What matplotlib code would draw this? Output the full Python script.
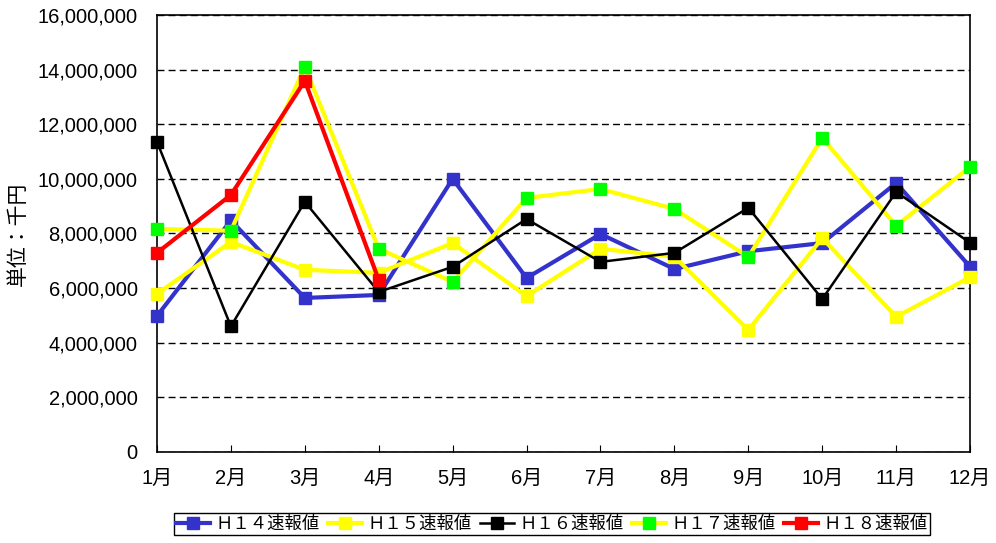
import matplotlib
matplotlib.use("Agg")
import matplotlib.pyplot as plt
from matplotlib.ticker import FuncFormatter, MultipleLocator

plt.rcParams['font.family'] = ['Liberation Sans', 'Noto Sans CJK JP', 'DejaVu Sans']

months = ['1月', '2月', '3月', '4月', '5月', '6月', '7月', '8月', '9月', '10月', '11月', '12月']

h14 = [4980000, 8480000, 5640000, 5750000, 10000000, 6370000, 7980000, 6700000, 7350000, 7650000, 9850000, 6780000]
h15 = [5790000, 7690000, 6670000, 6560000, 7650000, 5710000, 7440000, 7150000, 4470000, 7830000, 4950000, 6400000]
h16 = [11360000, 4600000, 9160000, 5860000, 6780000, 8530000, 6960000, 7290000, 8940000, 5600000, 9520000, 7660000]
h17 = [8170000, 8100000, 14100000, 7440000, 6230000, 9300000, 9630000, 8900000, 7140000, 11500000, 8280000, 10440000]
h18 = [7290000, 9410000, 13590000, 6300000]

series_names = ['Ｈ１４速報値', 'Ｈ１５速報値', 'Ｈ１６速報値', 'Ｈ１７速報値', 'Ｈ１８速報値']

fig = plt.figure(figsize=(9.96, 5.43), dpi=100)
ax = fig.add_axes([0.1576, 0.1676, 0.8164, 0.8048])

x = list(range(len(months)))
ax.plot(x, h14, color='#3333CC', lw=3, marker='s', ms=8, mfc='#3333CC', mec='#3333CC',
        label=series_names[0], zorder=3, clip_on=False)
ax.plot(x, h15, color='#FFFF00', lw=3, marker='s', ms=8, mfc='#FFFF00', mec='#FFFF00',
        label=series_names[1], zorder=4, clip_on=False)
ax.plot(x, h16, color='black', lw=1.8, marker='s', ms=8, mfc='black', mec='black',
        label=series_names[2], zorder=5, clip_on=False)
ax.plot(x, h17, color='#FFFF00', lw=3, marker='s', ms=8, mfc='#00FF00', mec='#00FF00',
        label=series_names[3], zorder=4, clip_on=False)
ax.plot(x[:len(h18)], h18, color='#FF0000', lw=3, marker='s', ms=8, mfc='#FF0000', mec='#FF0000',
        label=series_names[4], zorder=6, clip_on=False)

ax.set_xlim(0, 11)
ax.set_ylim(0, 16000000)
ax.yaxis.set_major_locator(MultipleLocator(2000000))
ax.yaxis.set_major_formatter(FuncFormatter(lambda v, p: f'{int(v):,}'))
ax.set_xticks(x)
ax.set_xticklabels(months, family=['Liberation Sans', 'Noto Sans CJK JP'])
ax.tick_params(axis='x', direction='in', length=5, labelsize=14.5, pad=12)
ax.tick_params(axis='y', length=0, labelsize=14.5, pad=14)

ax.grid(axis='y', color='black', ls=(0, (5, 3)), lw=1)
for s in ax.spines.values():
    s.set_linewidth(1.2)
    s.set_color('black')

ax.set_ylabel('単位：千円', family=['Noto Sans CJK JP'], fontsize=15, va='center')
ax.yaxis.set_label_coords(-0.171, 0.5)

leg = fig.legend(loc='center', bbox_to_anchor=(0.554, 0.035), ncol=5, fancybox=False,
                 edgecolor='black', framealpha=1, prop={'family': 'Noto Sans CJK JP', 'size': 12.5},
                 handlelength=2.0, handletextpad=0.3, columnspacing=0.45, borderpad=0.1)
leg.get_frame().set_linewidth(1)

fig.savefig('out.png', dpi=100)
